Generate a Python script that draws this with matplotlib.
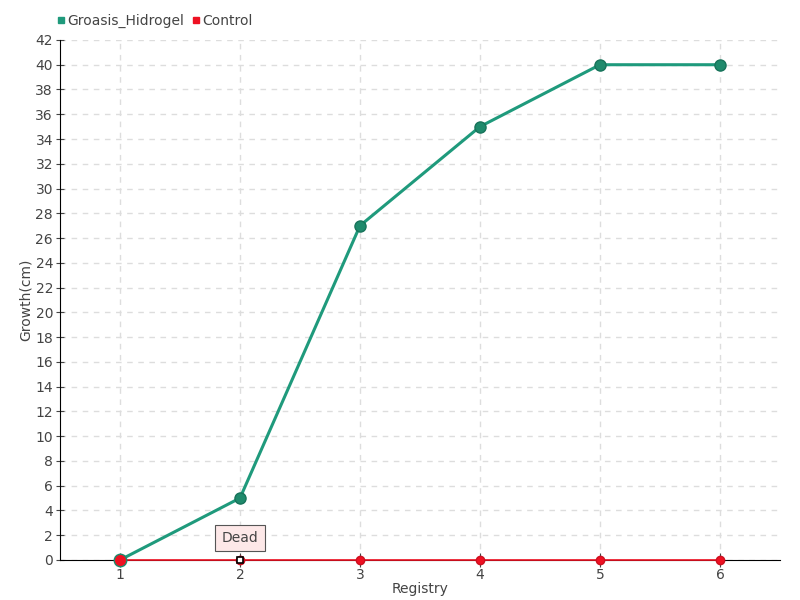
import matplotlib
matplotlib.use("Agg")
import matplotlib.pyplot as plt
from matplotlib.lines import Line2D

plt.rcParams['font.family'] = ['DejaVu Sans']

registry = [1, 2, 3, 4, 5, 6]
groasis = [0, 5, 27, 35, 40, 40]
control = [0, 0, 0, 0, 0, 0]
yticks = list(range(0, 43, 2))

fig = plt.figure(figsize=(8, 6), dpi=100)
ax = fig.add_axes([0.075, 0.0667, 0.9, 0.8667])
ax.set_xlim(0.5, 6.5)
ax.set_ylim(0, 42)

ax.grid(True, color="#dddddd", linestyle=(0, (4, 4)), linewidth=1)
ax.set_axisbelow(True)

ax.plot(registry, groasis, color="#1f9a7c", linewidth=2.2, zorder=3, clip_on=False)
ax.plot(registry, groasis, linestyle="none", marker="o", markersize=8,
        markerfacecolor="#1f8a6c", markeredgecolor="#17735a", zorder=4, clip_on=False)
ax.plot(registry, control, color="#ee1122", linewidth=1.2, zorder=5, clip_on=False)
ax.plot(registry, control, linestyle="none", marker="o", markersize=6,
        markerfacecolor="#ee1122", markeredgecolor="#cc1020", zorder=6, clip_on=False)
ax.plot([registry[0]], [control[0]], linestyle="none", marker="o", markersize=9,
        markerfacecolor="#ee1122", markeredgecolor="#1f8a6c", zorder=6, clip_on=False)
ax.plot([registry[1]], [control[1]], linestyle="none", marker="s", markersize=5,
        markerfacecolor="white", markeredgecolor="black", markeredgewidth=1.2, zorder=7,
        clip_on=False)

ax.annotate("Dead", xy=(registry[1], control[1]), xytext=(0, 16), textcoords="offset points",
            ha="center", va="center", fontsize=10, color="#444444",
            bbox=dict(boxstyle="square,pad=0.45", fc="#fde8e8", ec="#555555", lw=0.8),
            zorder=8)

ax.set_xticks(registry)
ax.set_yticks(yticks)
ax.tick_params(axis="both", labelsize=10, colors="#444444")
ax.tick_params(axis="x", direction="inout", pad=1, length=10)
ax.tick_params(axis="y", direction="inout", length=6, pad=2)
for s in ["top", "right"]:
    ax.spines[s].set_visible(False)
for s in ["left", "bottom"]:
    ax.spines[s].set_color("black")
ax.set_xlabel("Registry", fontsize=10, color="#444444", labelpad=0)
ax.set_ylabel("Growth(cm)", fontsize=10, color="#444444", labelpad=2)

handles = [Line2D([], [], linestyle="none", marker="s", markersize=5, color="#1f9a7c"),
           Line2D([], [], linestyle="none", marker="s", markersize=5, color="#ee1122")]
fig.legend(handles, ["Groasis_Hidrogel", "Control"], loc="upper left",
           bbox_to_anchor=(0.055, 0.997), ncol=2, frameon=False, fontsize=10,
           handlelength=0.6, handletextpad=0.2, columnspacing=0.5, labelcolor="#444444")

fig.savefig("out.png")
